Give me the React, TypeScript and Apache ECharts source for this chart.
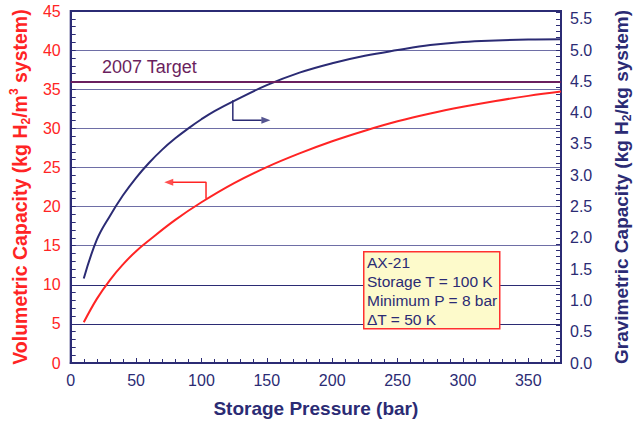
import React, { useEffect, useRef } from 'react';
import * as echarts from 'echarts';

// Storage pressure (bar) vs volumetric capacity (kg H2/m3 system)
const pressureVol = [10, 20, 30, 40, 50, 60, 80, 100, 125, 150, 175, 200, 225, 250, 275, 300, 325, 350, 375];
const volumetric = [5.2, 8.2, 10.6, 12.6, 14.3, 15.7, 18.3, 20.55, 23.0, 25.05, 26.8, 28.35, 29.7, 30.9, 31.9, 32.75, 33.5, 34.15, 34.7];

// Storage pressure (bar) vs gravimetric capacity (kg H2/kg system)
const pressureGrav = [10, 20, 30, 40, 50, 60, 70, 80, 90, 100, 110, 125, 150, 175, 200, 225, 250, 275, 300, 325, 350, 375];
const gravimetric = [1.35, 1.97, 2.35, 2.68, 2.96, 3.2, 3.41, 3.59, 3.75, 3.895, 4.025, 4.19, 4.44, 4.64, 4.79, 4.91, 5.0, 5.08, 5.13, 5.155, 5.17, 5.175];

const target2007 = 36;
const targetLabel = '2007 Target';

// arrow brackets pointing to each curve's axis
const volArrow = [[103.5, 21.0], [103.5, 23.1], [78, 23.1]];
const volArrowHead = [75, 23.1];
const gravArrow = [[124, 4.2], [124, 3.88], [146, 3.88]];
const gravArrowHead = [149.3, 3.88];

const annotation = ['AX-21', 'Storage T = 100 K', 'Minimum P = 8 bar', '\u0394T = 50 K'];

const NAVY = '#2B2B74';
const RED = '#FF2424';
const PURPLE = '#6B1F5E';
const FONT = 'Liberation Sans, Arial, sans-serif';

export default function App() {
  const ref = useRef<HTMLDivElement>(null);
  useEffect(() => {
    if (!ref.current) return;
    const chart = echarts.init(ref.current, null, { renderer: 'svg' });
    const volData = pressureVol.map((x, i) => [x, volumetric[i]]);
    const gravData = pressureGrav.map((x, i) => [x, gravimetric[i]]);
    const gridColors = ['#2B2B74', '#2B2B74', '#2B2B74', '#6E6EA6', '#6E6EA6', '#6E6EA6', '#6E6EA6', '#6E6EA6', '#6E6EA6', '#2B2B74'];
    chart.setOption({
      animation: false,
      backgroundColor: '#ffffff',
      textStyle: { fontFamily: FONT },
      grid: { left: 69, right: 72, top: 11, bottom: 60, show: true, borderColor: NAVY, borderWidth: 2, backgroundColor: 'transparent' },
      xAxis: {
        type: 'value', min: 0, max: 375, interval: 50,
        name: 'Storage Pressure (bar)', nameLocation: 'middle', nameGap: 36,
        nameTextStyle: { color: NAVY, fontSize: 19, fontWeight: 'bold', fontFamily: FONT },
        axisLine: { show: true, lineStyle: { color: NAVY, width: 2 } },
        axisTick: { show: true, inside: true, length: 5, lineStyle: { color: NAVY, width: 1 } },
        minorTick: { show: true, splitNumber: 5, length: 4, lineStyle: { color: NAVY, width: 1 } },
        axisLabel: { color: NAVY, fontSize: 16, margin: 9, showMaxLabel: false, fontFamily: FONT },
        splitLine: { show: false },
      },
      yAxis: [
        {
          type: 'value', min: 0, max: 45, interval: 5, position: 'left',
          name: 'Volumetric Capacity (kg H{sub|2}/m{sup|3} system)', nameLocation: 'middle', nameGap: 36, nameRotate: 90,
          nameTextStyle: {
            color: RED, fontSize: 19.5, fontWeight: 'bold', fontFamily: FONT, lineHeight: 24,
            rich: {
              sub: { fontSize: 12, fontWeight: 'bold', color: RED, verticalAlign: 'bottom', lineHeight: 24, fontFamily: FONT },
              sup: { fontSize: 12, fontWeight: 'bold', color: RED, verticalAlign: 'top', lineHeight: 24, fontFamily: FONT },
            },
          },
          axisLine: { show: true, lineStyle: { color: NAVY, width: 2 } },
          axisTick: { show: true, inside: true, length: 5, lineStyle: { color: NAVY, width: 1 } },
          minorTick: { show: true, splitNumber: 5, length: 5, lineStyle: { color: NAVY, width: 1 } },
          axisLabel: { color: RED, fontSize: 16, margin: 10, fontFamily: FONT },
          splitLine: { show: true, lineStyle: { color: gridColors, width: 1.2 } },
        },
        {
          type: 'value', min: 0, max: 5.625, interval: 0.5, position: 'right',
          name: 'Gravimetric Capacity (kg H{sub|2}/kg system)', nameLocation: 'middle', nameGap: 48, nameRotate: 90,
          nameTextStyle: {
            color: NAVY, fontSize: 19, fontWeight: 'bold', fontFamily: FONT, lineHeight: 24,
            rich: {
              sub: { fontSize: 12, fontWeight: 'bold', color: NAVY, verticalAlign: 'bottom', lineHeight: 24, fontFamily: FONT },
            },
          },
          axisLine: { show: true, lineStyle: { color: NAVY, width: 2 } },
          axisTick: { show: true, inside: true, length: 5, lineStyle: { color: NAVY, width: 1 } },
          minorTick: { show: true, splitNumber: 5, length: 5, lineStyle: { color: NAVY, width: 1 } },
          axisLabel: { color: NAVY, fontSize: 16, margin: 9, showMaxLabel: false, fontFamily: FONT, formatter: (v: number) => v.toFixed(1) },
          splitLine: { show: false },
        },
      ],
      series: [
        {
          type: 'line', yAxisIndex: 0, data: [], silent: true,
          markLine: {
            symbol: 'none', silent: true, label: { show: false },
            lineStyle: { color: PURPLE, width: 2.2, type: 'solid' },
            data: [{ yAxis: target2007 }],
          },
        },
        {
          type: 'line', yAxisIndex: 0, data: volData, smooth: 0.4, showSymbol: false,
          lineStyle: { color: RED, width: 2 }, itemStyle: { color: RED },
        },
        {
          type: 'line', yAxisIndex: 1, data: gravData, smooth: 0.4, showSymbol: false,
          lineStyle: { color: NAVY, width: 2 }, itemStyle: { color: NAVY },
        },
        {
          type: 'line', yAxisIndex: 0, data: volArrow, showSymbol: false, silent: true,
          lineStyle: { color: RED, width: 1.5 },
        },
        {
          type: 'scatter', yAxisIndex: 0, data: [volArrowHead], symbol: 'triangle', symbolSize: [7, 9], symbolRotate: 90,
          itemStyle: { color: RED }, silent: true,
        },
        {
          type: 'line', yAxisIndex: 1, data: gravArrow, showSymbol: false, silent: true,
          lineStyle: { color: NAVY, width: 1.5 },
        },
        {
          type: 'scatter', yAxisIndex: 1, data: [gravArrowHead], symbol: 'triangle', symbolSize: [7, 9], symbolRotate: -90,
          itemStyle: { color: NAVY }, silent: true,
        },
      ],
      graphic: [
        {
          type: 'text', left: 102, top: 58, z: 100,
          style: { text: targetLabel, fill: PURPLE, fontSize: 18, fontFamily: FONT },
        },
        {
          type: 'rect', left: 363, top: 251, z: 100,
          shape: { x: 0, y: 0, width: 136, height: 77 },
          style: { fill: '#FDFACB', stroke: '#FF3030', lineWidth: 1.5 },
        },
        {
          type: 'text', left: 367, top: 253, z: 101,
          style: { text: annotation.join('\n'), fill: NAVY, fontSize: 15.5, lineHeight: 19, fontFamily: FONT },
        },
      ],
    });
    return () => chart.dispose();
  }, []);
  return <div ref={ref} style={{ width: 641, height: 423, position: 'absolute', left: 0, top: 0 }} />;
}
